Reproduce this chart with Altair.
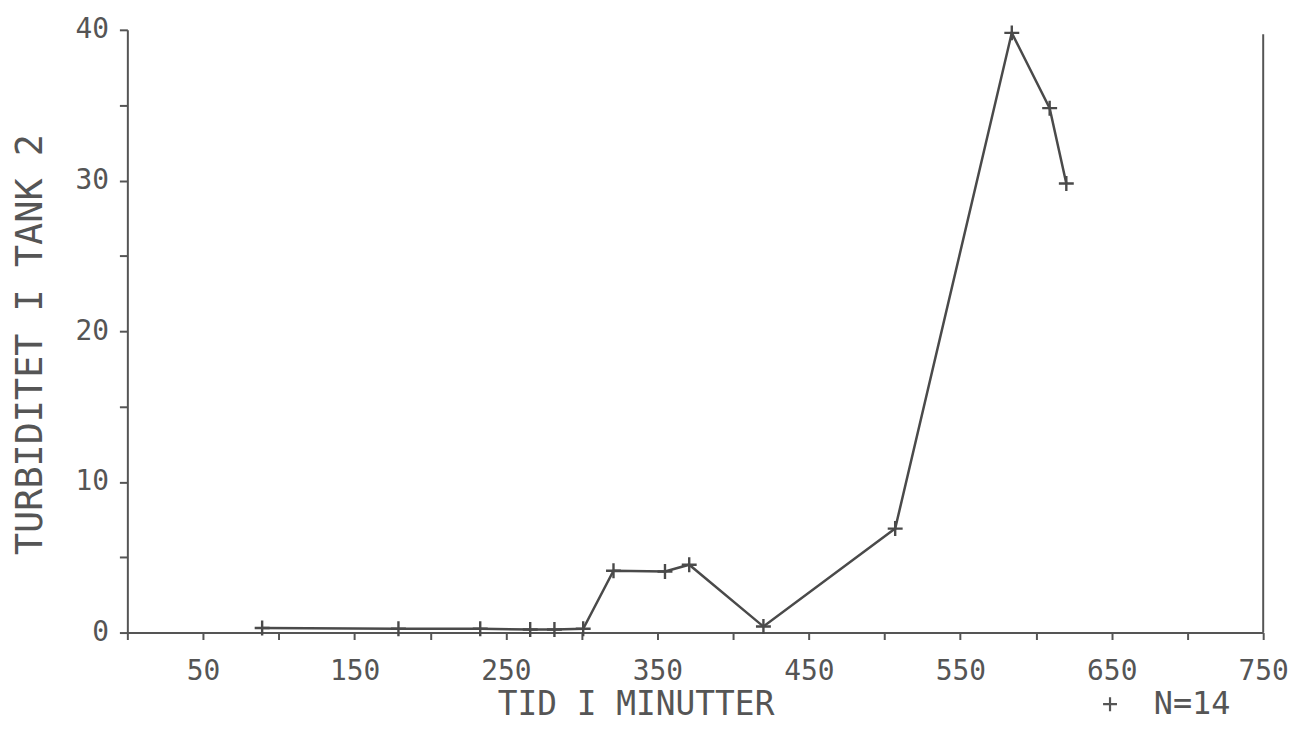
import altair as alt
import pandas as pd

# data
minutes = [89, 179, 233, 266, 282, 301, 321, 355, 371, 420, 507, 584, 609, 620]
turbidity = [0.3, 0.25, 0.25, 0.2, 0.2, 0.25, 4.1, 4.05, 4.5, 0.4, 6.9, 39.8, 34.8, 29.8]
series = ["N=14"] * len(minutes)

x_ticks = list(range(0, 751, 50))
y_ticks = list(range(0, 41, 5))

df = pd.DataFrame({"t": minutes, "v": turbidity, "s": series})

GRAY = "#555555"
MONO = "DejaVu Sans Mono"
PLUS = "M-1,0H1M0,-1V1"

x_enc = alt.X(
    "t:Q",
    scale=alt.Scale(domain=[0, 750], nice=False, zero=False),
    axis=alt.Axis(
        values=x_ticks,
        labelExpr="datum.value % 100 == 50 ? datum.label : ''",
        title="TID I MINUTTER",
        titleFont=MONO, titleFontSize=33, titleFontWeight="normal", titleColor=GRAY,
        titleX=511, titleY=72, titleBaseline="middle", titleAlign="center",
        labelFont=MONO, labelFontSize=28, labelColor=GRAY, labelPadding=18,
        labelFlush=False, labelOverlap=False,
        tickSize=7, tickColor=GRAY, tickWidth=2,
        domainColor=GRAY, domainWidth=2, grid=False,
    ),
)
y_enc = alt.Y(
    "v:Q",
    scale=alt.Scale(domain=[0, 40], nice=False),
    axis=alt.Axis(
        values=y_ticks,
        labelExpr="datum.value % 10 == 0 ? datum.label : ''",
        title="TURBIDITET I TANK 2",
        titleFont=MONO, titleFontSize=37, titleFontWeight="normal", titleColor=GRAY,
        titleAngle=270, titleX=-97, titleY=316, titleBaseline="middle", titleAlign="center",
        labelFont=MONO, labelFontSize=28, labelColor=GRAY, labelPadding=11,
        labelOverlap=False, labelBaseline="middle",
        tickSize=8, tickColor=GRAY, tickWidth=2,
        domainColor=GRAY, domainWidth=2, grid=False,
    ),
)

line = alt.Chart(df).mark_line(color="#4a4a4a", strokeWidth=2.5).encode(x=x_enc, y=y_enc)

points = alt.Chart(df).mark_point(filled=False, strokeWidth=2.4, size=225, opacity=1, color="#4a4a4a").encode(
    x="t:Q",
    y="v:Q",
    shape=alt.Shape(
        "s:N",
        scale=alt.Scale(domain=["N=14"], range=[PLUS]),
        legend=alt.Legend(
            orient="none", legendX=972, legendY=662, title=None, padding=0,
            labelFont=MONO, labelFontSize=32, labelColor=GRAY, labelOffset=28,
            symbolSize=196, symbolStrokeWidth=2.2, symbolStrokeColor=GRAY,
        ),
    ),
)

frame_df = pd.DataFrame({"t": [750], "v0": [0], "v1": [39.7]})
right_edge = alt.Chart(frame_df).mark_rule(color=GRAY, strokeWidth=2).encode(
    x="t:Q", y="v0:Q", y2="v1:Q"
)

chart = alt.layer(line, points, right_edge).properties(
    width=1142,
    height=606,
    autosize="none",
    padding={"left": 120, "top": 20, "right": 36, "bottom": 90},
    background="white",
).configure_view(stroke=None)

chart.save("out.html", embed_options={"renderer": "svg", "actions": False})
